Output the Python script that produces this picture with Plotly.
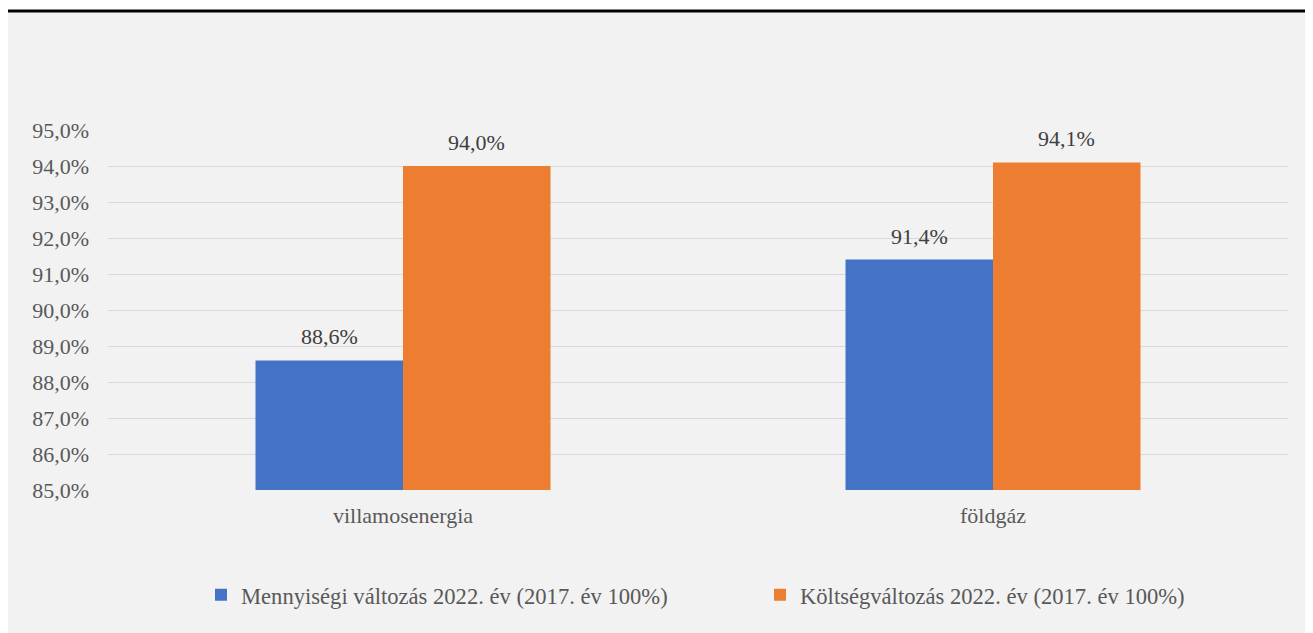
import plotly.graph_objects as go

categories = ["villamosenergia", "földgáz"]
series_names = ["Mennyiségi változás 2022. év (2017. év 100%)",
                "Költségváltozás 2022. év (2017. év 100%)"]
mennyisegi = [88.6, 91.4]
koltseg = [94.0, 94.1]
colors = ["#4472C4", "#ED7D31"]
tick_vals = [85, 86, 87, 88, 89, 90, 91, 92, 93, 94, 95]
tick_text = [f"{v:.1f}".replace(".", ",") + "%" for v in tick_vals]

W, H = 1305, 625
ML, MR, MT, MB = 100, 25, 122, 143
PW, PH = W - ML - MR, H - MT - MB

def px_x(px):
    return (px - ML) / PW

def px_y(py):
    return (H - MB - py) / PH

FONT = "Liberation Serif"
FS = 22
BAR_W = PW / len(categories) * 0.5 / 2

fig = go.Figure()
for name, vals, col in zip(series_names, [mennyisegi, koltseg], colors):
    fig.add_trace(go.Bar(
        x=categories, y=vals, name=name,
        marker=dict(color=col, line=dict(width=0)),
    ))

annotations = []
for i, vals in enumerate([mennyisegi, koltseg]):
    shift = (i - 0.5) * BAR_W
    for c, v in zip(categories, vals):
        annotations.append(dict(
            x=c, y=v, xref="x", yref="y", text=f"{v:.1f}".replace(".", ",") + "%",
            showarrow=False, xshift=shift, yshift=9, yanchor="bottom",
            font=dict(family=FONT, size=FS, color="#404040"),
        ))

fig.update_layout(
    width=W, height=H,
    margin=dict(l=ML, r=MR, t=MT, b=MB, autoexpand=False),
    paper_bgcolor="#F2F2F2",
    plot_bgcolor="#F2F2F2",
    barmode="group",
    bargap=0.5,
    bargroupgap=0,
    font=dict(family=FONT, size=FS, color="#595959"),
    xaxis=dict(showgrid=False, showline=False, ticks="", ticklabelstandoff=10,
               tickfont=dict(family=FONT, size=FS, color="#595959")),
    yaxis=dict(range=[85, 95], tickmode="array", tickvals=tick_vals, ticktext=tick_text,
               showgrid=True, gridcolor="#D9D9D9", gridwidth=1.3,
               zeroline=False, showline=False, ticks="", ticklabelstandoff=18,
               tickfont=dict(family=FONT, size=FS, color="#595959")),
    legend=dict(orientation="h", x=0.5 + 62 / PW, xanchor="center", y=px_y(587), yanchor="middle",
                font=dict(family=FONT, size=22.6, color="#595959"),
                bgcolor="rgba(0,0,0,0)", entrywidth=514, itemwidth=30),
    annotations=annotations,
    shapes=[
        dict(type="rect", xref="paper", yref="paper",
             x0=px_x(-2), x1=px_x(W + 2), y0=px_y(2), y1=px_y(-2),
             fillcolor="white", line=dict(width=0), layer="above"),
        dict(type="rect", xref="paper", yref="paper",
             x0=px_x(-2), x1=px_x(W + 2), y0=px_y(4.5), y1=px_y(1.5),
             fillcolor="black", line=dict(width=0), layer="above"),
    ],
)

fig.write_html("out.html")
